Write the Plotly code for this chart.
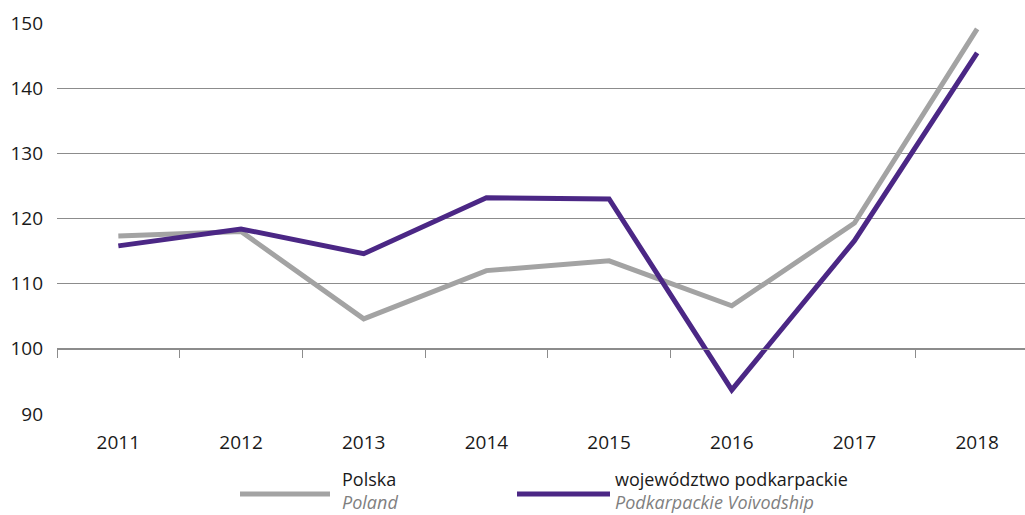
import plotly.graph_objects as go

# Index values, 2011-2018
years = ["2011", "2012", "2013", "2014", "2015", "2016", "2017", "2018"]
polska = [117.3, 118.0, 104.6, 112.0, 113.5, 106.6, 119.3, 149.1]
podkarpackie = [115.8, 118.4, 114.6, 123.2, 123.0, 93.7, 116.6, 145.4]

y_ticks = [90, 100, 110, 120, 130, 140, 150]

GRAY = "#a3a3a3"
PURPLE = "#4b2785"
GRID = "#8c8c8c"
FONT = "Open Sans"

W, H = 1025, 515
ML, MR, MT, MB = 57, 0, 23, 101
PW, PH = W - ML - MR, H - MT - MB


def px_x(v):
    return (v - ML) / PW


def px_y(v):
    return (H - MB - v) / PH


fig = go.Figure()
fig.add_trace(go.Scatter(x=years, y=polska, mode="lines", name="Polska",
                         line=dict(color=GRAY, width=5), showlegend=False))
fig.add_trace(go.Scatter(x=years, y=podkarpackie, mode="lines",
                         name="województwo podkarpackie",
                         line=dict(color=PURPLE, width=5), showlegend=False))

# invisible helper trace carrying the baseline axis at 100
fig.add_trace(go.Scatter(x=[0], y=[100], xaxis="x2", mode="markers",
                         marker=dict(opacity=0), showlegend=False,
                         hoverinfo="skip"))

x_range = [-0.5, 7.39]

fig.update_layout(
    width=W, height=H,
    margin=dict(l=ML, r=MR, t=MT, b=MB),
    paper_bgcolor="white", plot_bgcolor="white",
    font=dict(family=FONT, size=19, color="#1a1a1a"),
    xaxis=dict(type="category", range=x_range, showgrid=False,
               showline=False, ticks="", ticklen=0, zeroline=False,
               tickfont=dict(size=19), ticklabelstandoff=15),
    xaxis2=dict(overlaying="x", anchor="free", position=10 / 60,
                range=x_range, showgrid=False, showline=True,
                linecolor=GRID, linewidth=1, ticks="outside",
                ticklen=8, tickcolor=GRID, tickwidth=1,
                tickvals=[i - 0.5 for i in range(9)],
                showticklabels=False, zeroline=False, side="bottom"),
    yaxis=dict(range=[90, 150], tickvals=y_ticks, showgrid=True,
               gridcolor=GRID, gridwidth=1, zeroline=False,
               showline=False, ticks="", ticklen=0,
               tickfont=dict(size=19), ticklabelstandoff=13),
    showlegend=False,
)

# legend: sample lines with two-line labels
legend_items = [
    (240, 330, 344, GRAY, "Polska", "Poland"),
    (517, 610, 617, PURPLE, "województwo podkarpackie",
     "Podkarpackie Voivodship"),
]
for x0, x1, xt, col, pl, en in legend_items:
    fig.add_shape(type="line", xref="paper", yref="paper",
                  x0=px_x(x0), x1=px_x(x1), y0=px_y(494), y1=px_y(494),
                  line=dict(color=col, width=5))
    fig.add_annotation(xref="paper", yref="paper", x=px_x(xt) - 0.003,
                       y=px_y(490), xanchor="left", yanchor="middle",
                       align="left", showarrow=False, borderpad=0,
                       text=pl + "<br><i><span style='color:#7f7f7f'>"
                       + en + "</span></i>",
                       font=dict(size=18, color="#1a1a1a"))

fig.write_html("out.html")
